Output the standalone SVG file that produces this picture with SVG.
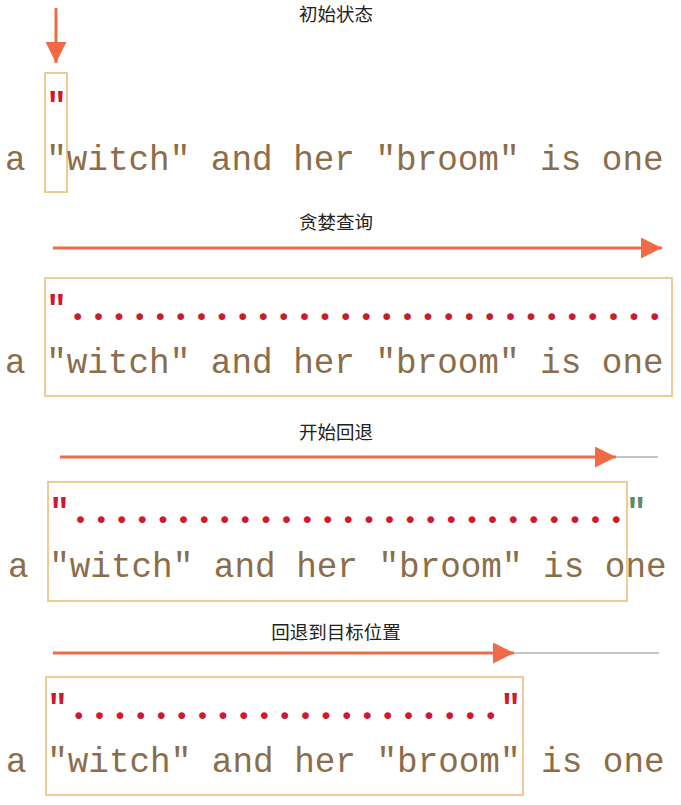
<svg xmlns="http://www.w3.org/2000/svg" width="681" height="805" viewBox="0 0 681 805">
<style>
.title{font-family:"Noto Sans CJK SC","Noto Sans",sans-serif;font-size:18.5px;fill:#222;text-anchor:middle}
.main{font-family:"Liberation Mono",monospace;font-size:34.3px;fill:#8b6d4a}
.red{font-family:"Liberation Mono",monospace;font-size:34.3px;font-weight:bold;fill:#d0182f}
.dots{font-family:"Liberation Serif",serif;font-size:42px;font-weight:bold;letter-spacing:10.1px}
.q{letter-spacing:0}
.green{fill:#5b8c5a}
.box{fill:none;stroke:#eecb94;stroke-width:2}
.arrow{stroke:#ef6b45;stroke-width:3;fill:none}
.gray{stroke:#c4c4c8;stroke-width:2;fill:none}
</style>
<defs>
<marker id="ah" markerWidth="7" markerHeight="7" refX="7" refY="3.5" orient="auto" markerUnits="strokeWidth" viewBox="0 0 7 7">
<path d="M0,0 L7,3.5 L0,7 Z" fill="#ef6b45"/>
</marker>
</defs>
<g id="connectors">
<line class="arrow" x1="56" y1="8" x2="56" y2="63" marker-end="url(#ah)"/>
<line class="arrow" x1="53" y1="248" x2="662" y2="248" marker-end="url(#ah)"/>
<line class="gray" x1="616" y1="457" x2="658" y2="457"/>
<line class="arrow" x1="60" y1="457" x2="616" y2="457" marker-end="url(#ah)"/>
<line class="gray" x1="514" y1="653" x2="659" y2="653"/>
<line class="arrow" x1="53" y1="653" x2="514" y2="653" marker-end="url(#ah)"/>
</g>
<g id="step1">
<text class="title" x="336" y="21">初始状态</text>
<rect class="box" x="45" y="73" width="22" height="119"/>
<text class="red" x="46.2" y="117">"</text>
<text class="main" x="5" y="170" xml:space="preserve">a "witch" and her "broom" is one</text>
</g>
<g id="step2">
<text class="title" x="336" y="229">贪婪查询</text>
<rect class="box" x="45" y="278" width="627" height="118"/>
<text class="red" x="46.2" y="320">"<tspan class="dots" x="72.6">.............................</tspan></text>
<text class="main" x="5" y="373" xml:space="preserve">a "witch" and her "broom" is one</text>
</g>
<g id="step3">
<text class="title" x="336" y="439">开始回退</text>
<rect class="box" x="48" y="482" width="579" height="119"/>
<text class="red" x="49.2" y="523">"<tspan class="dots" x="75.3">...........................</tspan><tspan class="green" x="626">"</tspan></text>
<text class="main" x="8" y="577" xml:space="preserve">a "witch" and her "broom" is one</text>
</g>
<g id="step4">
<text class="title" x="336" y="639">回退到目标位置</text>
<rect class="box" x="46" y="677" width="477" height="118"/>
<text class="red" x="47.2" y="719">"<tspan class="dots" x="73.6">.....................</tspan><tspan x="500.4">"</tspan></text>
<text class="main" x="6" y="772" xml:space="preserve">a "witch" and her "broom" is one</text>
</g>
</svg>
